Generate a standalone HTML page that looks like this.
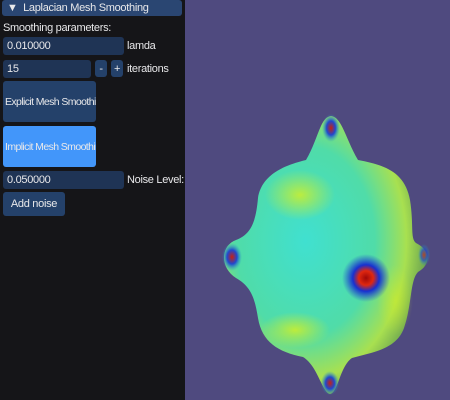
<!DOCTYPE html>
<html><head><style>
body{margin:0;width:450px;height:400px;overflow:hidden;background:#4f4a7f;font-family:"Liberation Sans",sans-serif;}
#panel{position:absolute;left:0;top:0;width:185px;height:400px;background:#151518;color:#e8e8ea;font-size:11px;letter-spacing:-0.3px;}
.el{position:absolute;box-sizing:border-box;white-space:nowrap;}
.inp{background:#1f3455;border-radius:3px;padding-left:4px;line-height:18px;height:18px;}
.btn{background:#24416a;border-radius:3px;display:flex;align-items:center;justify-content:center;overflow:hidden;}
.lbl{line-height:18px;}
.long{font-size:10.5px;letter-spacing:-0.6px;}
</style></head><body>
<div id="panel">
<div class="el" style="left:2px;top:0;width:180px;height:16px;background:#2a4672;border-radius:3px;line-height:16px;padding-left:5px;">▼&nbsp; Laplacian Mesh Smoothing</div>
<div class="el lbl" style="left:3px;top:19px;">Smoothing parameters:</div>
<div class="el inp" style="left:3px;top:37px;width:121px;">0.010000</div>
<div class="el lbl" style="left:127px;top:37px;">lamda</div>
<div class="el inp" style="left:3px;top:60px;width:88px;">15</div>
<div class="el btn" style="left:95px;top:60px;width:12px;height:17px;">-</div>
<div class="el btn" style="left:111px;top:60px;width:12px;height:17px;">+</div>
<div class="el lbl" style="left:127px;top:60px;">iterations</div>
<div class="el btn long" style="left:3px;top:81px;width:93px;height:41px;justify-content:flex-start;padding-left:2px;">Explicit Mesh Smoothing</div>
<div class="el btn long" style="left:3px;top:126px;width:93px;height:41px;background:#4296fa;justify-content:flex-start;padding-left:2px;">Implicit Mesh Smoothing</div>
<div class="el inp" style="left:3px;top:171px;width:121px;">0.050000</div>
<div class="el lbl" style="left:127px;top:171px;">Noise Level:</div>
<div class="el btn" style="left:3px;top:192px;width:62px;height:24px;">Add noise</div>
</div>
<svg width="450" height="400" style="position:absolute;left:0;top:0">
<defs>
<radialGradient id="body" cx="0.4" cy="0.45" r="0.62">
<stop offset="0" stop-color="#40e0d0"/><stop offset="0.55" stop-color="#50dca8"/><stop offset="0.8" stop-color="#a8e050"/><stop offset="0.95" stop-color="#70a850"/><stop offset="1" stop-color="#305850"/>
</radialGradient>
<radialGradient id="spot"><stop offset="0" stop-color="#a00808"/><stop offset="0.3" stop-color="#e02810"/><stop offset="0.55" stop-color="#1830d0"/><stop offset="1" stop-color="#2040d0" stop-opacity="0"/></radialGradient>
<radialGradient id="tip"><stop offset="0" stop-color="#c82010"/><stop offset="0.5" stop-color="#2048d0"/><stop offset="1" stop-color="#30a0c0" stop-opacity="0"/></radialGradient>
<radialGradient id="yel"><stop offset="0" stop-color="#d8f020" stop-opacity="0.8"/><stop offset="1" stop-color="#d8f020" stop-opacity="0"/></radialGradient>
</defs>
<g>
<path d="M331,116 C342,117 346,140 358,160 C385,165 405,172 410,200 C414,225 410,238 416,243 C430,250 432,264 418,272 C410,280 412,305 404,328 C396,350 372,352 352,358 C340,366 338,393 330,394 C322,393 318,366 303,357 C278,352 262,342 258,318 C255,300 252,287 236,278 C220,268 220,246 236,240 C252,234 256,220 258,198 C262,172 290,164 306,160 C318,140 320,117 331,116 Z" fill="url(#body)"/>
<ellipse cx="300" cy="195" rx="35" ry="25" fill="url(#yel)"/>
<ellipse cx="295" cy="330" rx="35" ry="18" fill="url(#yel)"/>
<ellipse cx="395" cy="300" rx="18" ry="35" fill="url(#yel)" opacity="0.6"/>
<ellipse cx="366" cy="278" rx="24" ry="24" fill="url(#spot)"/>
<ellipse cx="331" cy="128" rx="9" ry="14" fill="url(#tip)"/>
<ellipse cx="330" cy="383" rx="9" ry="12" fill="url(#tip)"/>
<ellipse cx="232" cy="257" rx="10" ry="14" fill="url(#tip)"/>
<ellipse cx="424" cy="255" rx="6" ry="11" fill="url(#tip)" opacity="0.7"/>
</g>
</svg>
</body></html>
